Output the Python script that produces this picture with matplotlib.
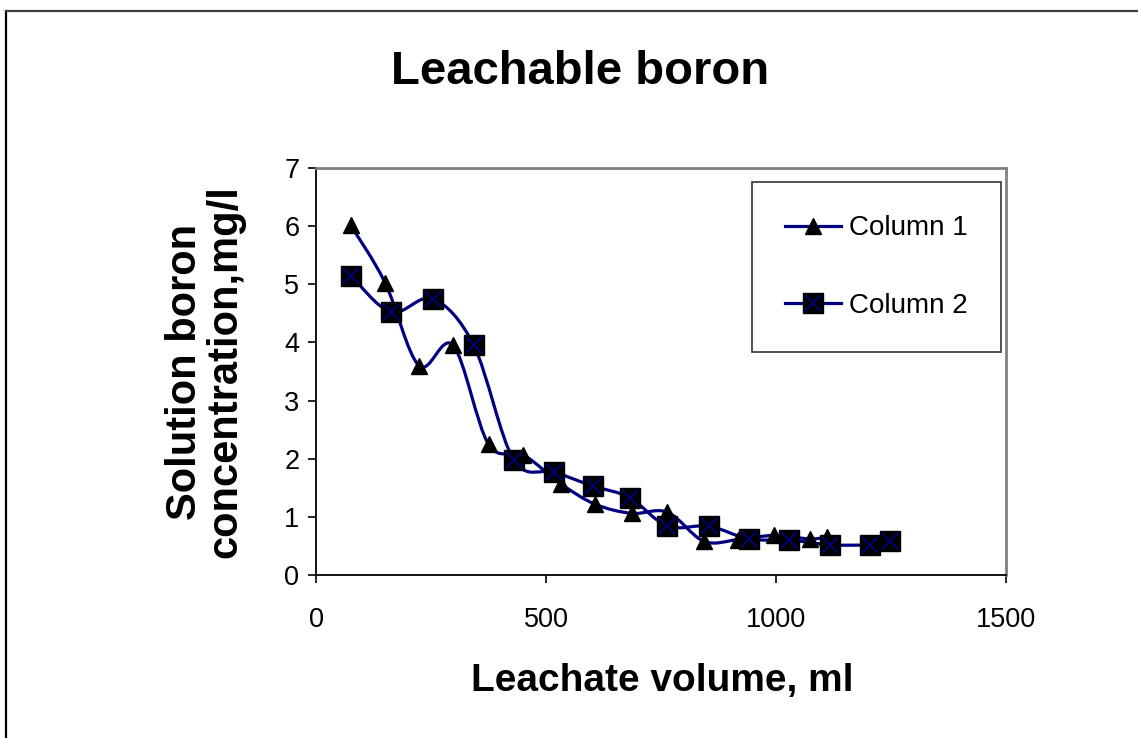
import numpy as np
import matplotlib
matplotlib.use('Agg')
import matplotlib.pyplot as plt
from matplotlib.path import Path
from matplotlib.patches import PathPatch
from matplotlib.lines import Line2D

plt.rcParams['font.family'] = ['Liberation Sans', 'DejaVu Sans']

# data
col1_x = [75, 150, 224, 298, 375, 450, 532, 606, 686, 764, 843, 918, 995, 1075, 1110]
col1_y = [6.02, 5.03, 3.6, 3.95, 2.25, 2.07, 1.57, 1.22, 1.06, 1.08, 0.58, 0.61, 0.68, 0.62, 0.66]

col2_x = [76, 163, 254, 343, 430, 518, 602, 682, 764, 854, 941, 1029, 1117, 1205, 1247]
col2_y = [5.15, 4.52, 4.75, 3.95, 1.98, 1.77, 1.53, 1.33, 0.84, 0.84, 0.62, 0.6, 0.52, 0.52, 0.58]

x_ticks = [0, 500, 1000, 1500]
y_ticks = [0, 1, 2, 3, 4, 5, 6, 7]

NAVY = '#000080'


def smooth_path(xs, ys):
    # excel style smoothed line (catmull-rom bezier through the points)
    pts = np.column_stack([xs, ys]).astype(float)
    n = len(pts)
    verts = [pts[0]]
    codes = [Path.MOVETO]
    for i in range(n - 1):
        p0 = pts[i - 1] if i > 0 else pts[i]
        p1 = pts[i]
        p2 = pts[i + 1]
        p3 = pts[i + 2] if i + 2 < n else pts[i + 1]
        verts += [p1 + (p2 - p0) / 6, p2 - (p3 - p1) / 6, p2]
        codes += [Path.CURVE4] * 3
    return Path(verts, codes)


fig = plt.figure(figsize=(11.38, 7.38), dpi=100)
ax = fig.add_axes([316 / 1138, 1 - 575 / 738, 690 / 1138, 407 / 738])

ax.set_xlim(0, 1500)
ax.set_ylim(0, 7)

for xs, ys in [(col1_x, col1_y), (col2_x, col2_y)]:
    ax.add_patch(PathPatch(smooth_path(xs, ys), fill=False, edgecolor=NAVY,
                           lw=2.3, capstyle='round', joinstyle='round', zorder=2))

ax.plot(col1_x, col1_y, linestyle='none', marker='^', ms=12,
        mfc='black', mec='black', zorder=3)
ax.plot(col2_x, col2_y, linestyle='none', marker='s', ms=14,
        mfc='black', mec='black', zorder=4)
ax.plot(col2_x, col2_y, linestyle='none', marker='x', ms=12,
        mec=NAVY, mew=1.3, zorder=5)

ax.set_xticks(x_ticks)
ax.set_yticks(y_ticks)
ax.tick_params(axis='both', direction='out', length=6, width=1.2, labelsize=19.5)
ax.tick_params(axis='x', pad=17)
ax.tick_params(axis='y', pad=6)

for s in ['left', 'bottom']:
    ax.spines[s].set_color('black')
    ax.spines[s].set_linewidth(1.3)
for s in ['top', 'right']:
    ax.spines[s].set_color('#808080')
    ax.spines[s].set_linewidth(2)

# legend
h1 = Line2D([], [], color=NAVY, lw=2.3, marker='^', ms=12, mfc='black', mec='black')
h2a = Line2D([], [], color=NAVY, lw=2.3, marker='s', ms=14, mfc='black', mec='black')
h2b = Line2D([], [], linestyle='none', marker='x', ms=12, mec=NAVY, mew=1.3)
leg = ax.legend([h1, (h2a, h2b)], ['Column 1', 'Column 2'],
                loc='upper left', bbox_to_anchor=((752 - 316) / 690, (575 - 182) / 407),
                borderaxespad=0, fontsize=20, handlelength=2.0, handletextpad=0.3,
                labelspacing=1.85, borderpad=1.2, fancybox=False, numpoints=1)
leg.get_frame().set_edgecolor('black')
leg.get_frame().set_linewidth(1.2)

# titles
fig.text(580 / 1138, 1 - 72 / 738, 'Leachable boron', fontsize=34,
         fontweight='bold', ha='center', va='center')
fig.text(662 / 1138, 1 - 681 / 738, 'Leachate volume, ml', fontsize=28,
         fontweight='bold', ha='center', va='center')
fig.text(205 / 1138, 1 - 372 / 738, 'Solution boron\nconcentration,mg/l', fontsize=30,
         fontweight='bold', ha='center', va='center', rotation=90, linespacing=1.0)

# outer frame (only top and left show)
fig.add_artist(Line2D([6 / 1138, 6 / 1138], [0, 1 - 11 / 738], transform=fig.transFigure,
                      color='black', lw=1.6))
fig.add_artist(Line2D([6 / 1138, 1], [1 - 11 / 738, 1 - 11 / 738], transform=fig.transFigure,
                      color='#404040', lw=1.6))

fig.savefig('out.png', dpi=100)
